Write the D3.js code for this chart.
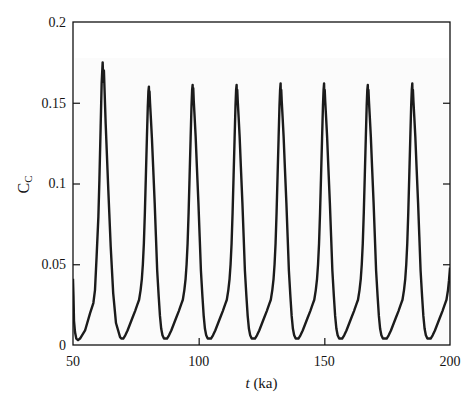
<!DOCTYPE html>
<html>
<head>
<meta charset="utf-8">
<script src="https://cdn.jsdelivr.net/npm/d3@7/dist/d3.min.js"></script>
<style>
  html, body { margin: 0; padding: 0; background: #fff; }
  svg { display: block; }
  svg text { font-family: "Liberation Serif", "DejaVu Serif", serif !important; }
</style>
</head>
<body>
<svg id="chart" width="470" height="395"></svg>
<script>
// ---- data ----
const timeKa = [
  50.0, 50.2, 50.4, 50.8, 51.3, 52.0, 52.8, 54.8, 56.8, 58.1, 58.75, 59.4, 60.1, 60.5, 61.0, 61.4, 61.8, 62.05, 62.3, 63.0, 64.05, 65.0, 66.0, 67.1, 68.7,
  69.2, 70.0, 70.8, 71.7, 72.7, 73.7, 74.7, 75.6, 76.3, 76.9, 77.4, 77.8, 78.2, 78.6, 79.0, 79.4, 79.75, 80.0, 80.2, 80.32, 80.45, 80.65, 81.0, 81.4, 81.9, 82.5, 83.0, 83.5, 84.1, 84.6, 85.1, 85.6, 86.2,
  86.6, 87.4, 88.2, 89.1, 90.1, 91.1, 92.1, 93.0, 93.7, 94.3, 94.8, 95.2, 95.6, 96.0, 96.4, 96.8, 97.15, 97.4, 97.6, 97.72, 97.85, 98.05, 98.4, 98.8, 99.3, 99.9, 100.4, 100.9, 101.5, 102.0, 102.5, 103.0, 103.6,
  104.1, 104.9, 105.7, 106.6, 107.6, 108.6, 109.6, 110.5, 111.2, 111.8, 112.3, 112.7, 113.1, 113.5, 113.9, 114.3, 114.65, 114.9, 115.1, 115.22, 115.35, 115.55, 115.9, 116.3, 116.8, 117.4, 117.9, 118.4, 119.0, 119.5, 120.0, 120.5, 121.1,
  121.6, 122.4, 123.2, 124.1, 125.1, 126.1, 127.1, 128.0, 128.7, 129.3, 129.8, 130.2, 130.6, 131.0, 131.4, 131.8, 132.15, 132.4, 132.6, 132.72, 132.85, 133.05, 133.4, 133.8, 134.3, 134.9, 135.4, 135.9, 136.5, 137.0, 137.5, 138.0, 138.6,
  138.9, 139.7, 140.5, 141.4, 142.4, 143.4, 144.4, 145.3, 146.0, 146.6, 147.1, 147.5, 147.9, 148.3, 148.7, 149.1, 149.45, 149.7, 149.9, 150.02, 150.15, 150.35, 150.7, 151.1, 151.6, 152.2, 152.7, 153.2, 153.8, 154.3, 154.8, 155.3, 155.9,
  156.3, 157.1, 157.9, 158.8, 159.8, 160.8, 161.8, 162.7, 163.4, 164.0, 164.5, 164.9, 165.3, 165.7, 166.1, 166.5, 166.85, 167.1, 167.3, 167.42, 167.55, 167.75, 168.1, 168.5, 169.0, 169.6, 170.1, 170.6, 171.2, 171.7, 172.2, 172.7, 173.3,
  174.0, 174.8, 175.6, 176.5, 177.5, 178.5, 179.5, 180.4, 181.1, 181.7, 182.2, 182.6, 183.0, 183.4, 183.8, 184.2, 184.55, 184.8, 185.0, 185.12, 185.25, 185.45, 185.8, 186.2, 186.7, 187.3, 187.8, 188.3, 188.9, 189.4, 189.9, 190.4, 191.0,
  191.5, 192.3, 193.1, 194.0, 195.0, 196.0, 197.0, 197.9, 198.6, 199.2, 199.6, 200.0
];
const concC = [
  0.041, 0.030, 0.015, 0.008, 0.004, 0.003, 0.004, 0.009, 0.0197, 0.026, 0.034, 0.055, 0.0795, 0.102, 0.135, 0.162, 0.175, 0.163, 0.170, 0.137, 0.096, 0.061, 0.032, 0.0136, 0.005,
  0.004, 0.004, 0.006, 0.009, 0.013, 0.017, 0.021, 0.025, 0.028, 0.034, 0.041, 0.050, 0.063, 0.082, 0.105, 0.128, 0.147, 0.157, 0.160, 0.151, 0.157, 0.150, 0.140, 0.128, 0.110, 0.088, 0.067, 0.046, 0.030, 0.018, 0.010, 0.006, 0.004,
  0.004, 0.004, 0.006, 0.009, 0.013, 0.017, 0.021, 0.025, 0.028, 0.034, 0.041, 0.050, 0.063, 0.082, 0.105, 0.128, 0.148, 0.158, 0.161, 0.150, 0.159, 0.151, 0.141, 0.129, 0.110, 0.088, 0.067, 0.046, 0.030, 0.018, 0.010, 0.006, 0.004,
  0.004, 0.004, 0.006, 0.009, 0.013, 0.017, 0.021, 0.025, 0.028, 0.034, 0.041, 0.050, 0.063, 0.082, 0.105, 0.128, 0.148, 0.158, 0.161, 0.152, 0.158, 0.151, 0.141, 0.129, 0.110, 0.088, 0.067, 0.046, 0.030, 0.018, 0.010, 0.006, 0.004,
  0.004, 0.004, 0.006, 0.009, 0.013, 0.017, 0.021, 0.025, 0.028, 0.034, 0.041, 0.050, 0.063, 0.082, 0.105, 0.128, 0.148, 0.158, 0.162, 0.151, 0.158, 0.151, 0.141, 0.129, 0.110, 0.088, 0.067, 0.046, 0.030, 0.018, 0.010, 0.006, 0.004,
  0.004, 0.004, 0.006, 0.009, 0.013, 0.017, 0.021, 0.025, 0.028, 0.034, 0.041, 0.050, 0.063, 0.082, 0.105, 0.128, 0.148, 0.158, 0.162, 0.152, 0.158, 0.151, 0.141, 0.129, 0.110, 0.088, 0.067, 0.046, 0.030, 0.018, 0.010, 0.006, 0.004,
  0.004, 0.004, 0.006, 0.009, 0.013, 0.017, 0.021, 0.025, 0.028, 0.034, 0.041, 0.050, 0.063, 0.082, 0.105, 0.128, 0.148, 0.158, 0.161, 0.151, 0.158, 0.151, 0.141, 0.129, 0.110, 0.088, 0.067, 0.046, 0.030, 0.018, 0.010, 0.006, 0.004,
  0.004, 0.004, 0.006, 0.009, 0.013, 0.017, 0.021, 0.025, 0.028, 0.034, 0.041, 0.050, 0.063, 0.082, 0.105, 0.128, 0.148, 0.158, 0.162, 0.152, 0.158, 0.151, 0.141, 0.129, 0.110, 0.088, 0.067, 0.046, 0.030, 0.018, 0.010, 0.006, 0.004,
  0.004, 0.004, 0.006, 0.009, 0.013, 0.017, 0.021, 0.025, 0.028, 0.034, 0.040, 0.048
];
const xTicks = [50, 100, 150, 200];
const xTickLabels = ["50", "100", "150", "200"];
const yTicks = [0, 0.05, 0.1, 0.15, 0.2];
const yTickLabels = ["0", "0.05", "0.1", "0.15", "0.2"];
const xLabelVar = "t";
const xLabelUnit = " (ka)";
const yLabelMain = "C";
const yLabelSub = "C";

(function draw() {
  const FONT = '"Liberation Serif", "DejaVu Serif", serif';
  const TXT = "#141414";
  const svg = d3.select("#chart");
  const pLeft = 73, pRight = 450, pTop = 22, pBottom = 345;

  const x = d3.scaleLinear().domain([50, 200]).range([pLeft, pRight]);
  const y = d3.scaleLinear().domain([0, 0.2]).range([pBottom, pTop]);

  // faint background patch seen in the scan
  svg.append("rect")
    .attr("x", pLeft + 2).attr("y", 58)
    .attr("width", pRight - pLeft - 4).attr("height", pBottom - 58 - 1)
    .attr("fill", "#fbfbfb");

  svg.append("defs").append("clipPath").attr("id", "clip")
    .append("rect").attr("x", pLeft).attr("y", pTop)
    .attr("width", pRight - pLeft).attr("height", pBottom - pTop);

  const data = timeKa.map((t, i) => ({ t, c: concC[i] }));
  const line = d3.line().x(d => x(d.t)).y(d => y(d.c));

  svg.append("path")
    .datum(data)
    .attr("clip-path", "url(#clip)")
    .attr("d", line)
    .attr("fill", "none")
    .attr("stroke", "#1b1b1b")
    .attr("stroke-width", 2.4)
    .attr("stroke-linejoin", "round");

  const tickLen = 7;
  const axisColor = "#111";

  const gLeft = svg.append("g").attr("transform", `translate(${pLeft},0)`)
    .call(d3.axisRight(y).tickValues(yTicks.slice(1, -1)).tickSize(tickLen).tickFormat(""));
  const gRight = svg.append("g").attr("transform", `translate(${pRight},0)`)
    .call(d3.axisLeft(y).tickValues(yTicks.slice(1, -1)).tickSize(tickLen).tickFormat(""));
  const gBottom = svg.append("g").attr("transform", `translate(0,${pBottom})`)
    .call(d3.axisTop(x).tickValues(xTicks.slice(1, -1)).tickSize(tickLen).tickFormat(""));
  [gLeft, gRight, gBottom].forEach(g => {
    g.select(".domain").remove();
    g.selectAll(".tick line").attr("stroke", axisColor).attr("stroke-width", 1.2);
  });

  svg.append("rect")
    .attr("x", pLeft).attr("y", pTop)
    .attr("width", pRight - pLeft).attr("height", pBottom - pTop)
    .attr("fill", "none").attr("stroke", axisColor).attr("stroke-width", 1.3);

  const labels = svg.append("g").style("font-family", FONT);

  labels.append("g").selectAll("text").data(yTicks).join("text")
    .attr("x", pLeft - 7)
    .attr("y", d => y(d) + 4.8)
    .attr("text-anchor", "end")
    .style("font-family", FONT).attr("fill", TXT)
    .style("font-size", "14px")
    .text((d, i) => yTickLabels[i]);

  labels.append("g").selectAll("text").data(xTicks).join("text")
    .attr("x", d => x(d))
    .attr("y", pBottom + 20.5)
    .attr("text-anchor", "middle")
    .style("font-family", FONT).attr("fill", TXT)
    .style("font-size", "14px")
    .text((d, i) => xTickLabels[i]);

  const xt = labels.append("text")
    .attr("x", (pLeft + pRight) / 2)
    .attr("y", 388)
    .attr("text-anchor", "middle")
    .style("font-family", FONT).attr("fill", TXT)
    .style("font-size", "15px");
  xt.append("tspan").style("font-style", "italic").text(xLabelVar);
  xt.append("tspan").text(xLabelUnit);

  const yt = labels.append("text")
    .attr("transform", `translate(29,${(pTop + pBottom) / 2 + 1}) rotate(-90)`)
    .attr("text-anchor", "middle")
    .style("font-family", FONT).attr("fill", TXT)
    .style("font-size", "16px");
  yt.append("tspan").text(yLabelMain);
  yt.append("tspan").style("font-size", "11px").attr("dy", 3).text(yLabelSub);
})();
</script>
</body>
</html>
